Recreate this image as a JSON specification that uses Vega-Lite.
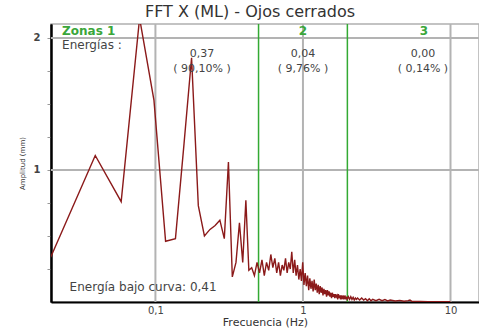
{
  "$schema": "https://vega.github.io/schema/vega-lite/v6.json",
  "width": 428,
  "height": 278,
  "autosize": {"type": "none"},
  "padding": {"left": 51, "top": 24, "right": 0, "bottom": 26},
  "background": "white",
  "title": {"text": "FFT X (ML) - Ojos cerrados", "fontSize": 16, "fontWeight": "normal", "color": "#333333", "anchor": "middle", "dx": -15, "offset": 3, "font": "DejaVu Sans"},
  "config": {
    "font": "DejaVu Sans",
    "view": {"stroke": "#b0b0b0", "strokeWidth": 1.5}
  },
  "resolve": {"axis": {"y": "independent"}},
  "datasets": {
    "fft": [
      {"f":0.0195,"a":0.34},{"f":0.0391,"a":1.11},{"f":0.0586,"a":0.76},{"f":0.0781,"a":2.15},{"f":0.0977,"a":1.53},
      {"f":0.1172,"a":0.46},{"f":0.1367,"a":0.48},{"f":0.1563,"a":1.2},{"f":0.1758,"a":1.85},{"f":0.1953,"a":0.73},
      {"f":0.2148,"a":0.5},{"f":0.2344,"a":0.55},{"f":0.2539,"a":0.58},{"f":0.2734,"a":0.62},{"f":0.293,"a":0.48},
      {"f":0.3125,"a":1.06},{"f":0.332,"a":0.19},{"f":0.3516,"a":0.3},{"f":0.3711,"a":0.6},{"f":0.3906,"a":0.3},
      {"f":0.4102,"a":0.77},{"f":0.4297,"a":0.24},{"f":0.4492,"a":0.26},{"f":0.4688,"a":0.2},{"f":0.4883,"a":0.3},
      {"f":0.5078,"a":0.22},{"f":0.5273,"a":0.32},{"f":0.5469,"a":0.2},{"f":0.5664,"a":0.3},{"f":0.5859,"a":0.24},
      {"f":0.6055,"a":0.36},{"f":0.625,"a":0.26},{"f":0.6445,"a":0.33},{"f":0.6641,"a":0.22},{"f":0.6836,"a":0.3},
      {"f":0.7031,"a":0.2},{"f":0.7227,"a":0.28},{"f":0.7422,"a":0.24},{"f":0.7617,"a":0.33},{"f":0.7813,"a":0.22},
      {"f":0.8008,"a":0.3},{"f":0.8203,"a":0.25},{"f":0.8398,"a":0.38},{"f":0.8594,"a":0.22},{"f":0.8789,"a":0.32},
      {"f":0.8984,"a":0.2},{"f":0.918,"a":0.28},{"f":0.9375,"a":0.17},{"f":0.957,"a":0.25},{"f":0.9766,"a":0.16},
      {"f":0.9961,"a":0.3},{"f":1.0156,"a":0.13},{"f":1.0352,"a":0.22},{"f":1.0547,"a":0.12},{"f":1.0742,"a":0.2},
      {"f":1.0938,"a":0.09},{"f":1.1133,"a":0.18},{"f":1.1328,"a":0.1},{"f":1.1523,"a":0.16},{"f":1.1719,"a":0.08},
      {"f":1.1914,"a":0.17},{"f":1.2109,"a":0.09},{"f":1.2305,"a":0.14},{"f":1.25,"a":0.07},{"f":1.2695,"a":0.13},
      {"f":1.2891,"a":0.06},{"f":1.3086,"a":0.12},{"f":1.3281,"a":0.07},{"f":1.3477,"a":0.11},{"f":1.3672,"a":0.05},
      {"f":1.3867,"a":0.1},{"f":1.4063,"a":0.06},{"f":1.4258,"a":0.09},{"f":1.4453,"a":0.04},{"f":1.4648,"a":0.09},
      {"f":1.4844,"a":0.05},{"f":1.5039,"a":0.08},{"f":1.5234,"a":0.04},{"f":1.543,"a":0.07},{"f":1.5625,"a":0.03},
      {"f":1.582,"a":0.07},{"f":1.6016,"a":0.04},{"f":1.6211,"a":0.06},{"f":1.6406,"a":0.03},{"f":1.6602,"a":0.06},
      {"f":1.6797,"a":0.04},{"f":1.6992,"a":0.05},{"f":1.7188,"a":0.02},{"f":1.7383,"a":0.06},{"f":1.7578,"a":0.03},
      {"f":1.7773,"a":0.05},{"f":1.7969,"a":0.02},{"f":1.8164,"a":0.05},{"f":1.8359,"a":0.03},{"f":1.8555,"a":0.04},
      {"f":1.875,"a":0.02},{"f":1.8945,"a":0.05},{"f":1.9141,"a":0.03},{"f":1.9336,"a":0.04},{"f":1.9531,"a":0.02},
      {"f":1.9727,"a":0.04},{"f":1.9922,"a":0.02},
      {"f":2.0313,"a":0.04},{"f":2.0703,"a":0.02},{"f":2.1094,"a":0.04},{"f":2.1484,"a":0.02},{"f":2.1875,"a":0.035},
      {"f":2.2266,"a":0.015},{"f":2.2656,"a":0.03},{"f":2.3047,"a":0.02},{"f":2.3438,"a":0.03},{"f":2.4219,"a":0.015},
      {"f":2.5,"a":0.03},{"f":2.5781,"a":0.015},{"f":2.6563,"a":0.025},{"f":2.7344,"a":0.01},{"f":2.8125,"a":0.025},
      {"f":2.8906,"a":0.01},{"f":2.9688,"a":0.02},{"f":3.125,"a":0.01},{"f":3.2813,"a":0.02},{"f":3.4375,"a":0.01},
      {"f":3.5938,"a":0.018},{"f":3.75,"a":0.008},{"f":3.9063,"a":0.015},{"f":4.2188,"a":0.008},{"f":4.5313,"a":0.012},
      {"f":4.8438,"a":0.006},{"f":5.1563,"a":0.01},{"f":5.3125,"a":0.015},{"f":5.4688,"a":0.005},{"f":6.25,"a":0.004},
      {"f":7.0313,"a":0.003},{"f":7.8125,"a":0.003},{"f":8.5938,"a":0.002},{"f":9.375,"a":0.002},{"f":10.0,"a":0.002}
    ],
    "xgrid": [{"f":0.1},{"f":1},{"f":10}],
    "ygrid": [{"a":1},{"a":2}],
    "zones": [{"f":0.5},{"f":2}],
    "zleft": [{"f":0.0233,"a":2.053,"t":"Zonas 1"}],
    "zcenter": [{"f":1.0,"a":2.053,"t":"2"},{"f":6.6,"a":2.053,"t":"3"}],
    "lleft": [
      {"f":0.0233,"a":1.947,"t":"Energías :"},
      {"f":0.0262,"a":0.11,"t":"Energía bajo curva: 0,41"}
    ],
    "lcenter": [
      {"f":0.207,"a":1.875,"t":"0,37"},
      {"f":0.207,"a":1.765,"t":"( 90,10% )"},
      {"f":1.0,"a":1.875,"t":"0,04"},
      {"f":1.0,"a":1.765,"t":"( 9,76% )"},
      {"f":6.5,"a":1.875,"t":"0,00"},
      {"f":6.5,"a":1.765,"t":"( 0,14% )"}
    ]
  },
  "layer": [
    {
      "data": {"name": "xgrid"},
      "mark": {"type": "rule", "color": "#b3b3b3", "strokeWidth": 2},
      "encoding": {
        "x": {"field": "f", "type": "quantitative", "scale": {"type": "log", "domain": [0.0196, 15.6], "nice": false},
          "axis": {"title": "Frecuencia (Hz)", "values": [0.1, 1, 10], "labelExpr": "datum.value == 0.1 ? '0,1' : datum.label", "grid": false, "ticks": false, "domainColor": "#000000", "domainWidth": 2, "labelFontSize": 10, "labelColor": "#444444", "labelPadding": 3, "titleFontSize": 11, "titleFontWeight": "normal", "titleColor": "#333333", "titlePadding": 1}}
      }
    },
    {
      "data": {"name": "ygrid"},
      "mark": {"type": "rule", "color": "#b3b3b3", "strokeWidth": 2},
      "encoding": {
        "y": {"field": "a", "type": "quantitative", "scale": {"domain": [0, 2.106], "nice": false, "zero": false},
          "axis": {"orient": "left", "title": "Amplitud (mm)", "values": [1, 2], "grid": false, "tickSize": 4, "tickColor": "#999999", "domainColor": "#000000", "domainWidth": 2, "labelFontSize": 10, "labelFontWeight": "bold", "labelColor": "#444444", "labelPadding": 7, "titleFontSize": 7, "titleFontWeight": "normal", "titleColor": "#333333", "titlePadding": 8}}
      }
    },
    {
      "data": {"name": "zones"},
      "mark": {"type": "rule", "color": "#33aa33", "strokeWidth": 1.5},
      "encoding": {
        "x": {"field": "f", "type": "quantitative"}
      }
    },
    {
      "data": {"name": "fft"},
      "mark": {"type": "line", "color": "#8b1a1a", "strokeWidth": 1.4, "clip": true},
      "encoding": {
        "x": {"field": "f", "type": "quantitative"},
        "y": {"field": "a", "type": "quantitative",
          "axis": {"orient": "left", "title": null, "values": [0.25, 0.5, 0.75, 1.25, 1.5, 1.75], "labels": false, "grid": false, "tickSize": 4, "tickColor": "#999999", "domainColor": "#000000", "domainWidth": 2}}
      }
    },
    {
      "data": {"name": "zleft"},
      "mark": {"type": "text", "color": "#3aa63a", "fontSize": 12, "fontWeight": "bold", "baseline": "middle", "align": "left"},
      "encoding": {
        "x": {"field": "f", "type": "quantitative"},
        "y": {"field": "a", "type": "quantitative", "axis": null},
        "text": {"field": "t"}
      }
    },
    {
      "data": {"name": "zcenter"},
      "mark": {"type": "text", "color": "#3aa63a", "fontSize": 12, "fontWeight": "bold", "baseline": "middle", "align": "center"},
      "encoding": {
        "x": {"field": "f", "type": "quantitative"},
        "y": {"field": "a", "type": "quantitative", "axis": null},
        "text": {"field": "t"}
      }
    },
    {
      "data": {"name": "lleft"},
      "mark": {"type": "text", "color": "#444444", "fontSize": 12, "baseline": "middle", "align": "left"},
      "encoding": {
        "x": {"field": "f", "type": "quantitative"},
        "y": {"field": "a", "type": "quantitative", "axis": null},
        "text": {"field": "t"}
      }
    },
    {
      "data": {"name": "lcenter"},
      "mark": {"type": "text", "color": "#444444", "fontSize": 11, "baseline": "middle", "align": "center"},
      "encoding": {
        "x": {"field": "f", "type": "quantitative"},
        "y": {"field": "a", "type": "quantitative", "axis": null},
        "text": {"field": "t"}
      }
    }
  ]
}
